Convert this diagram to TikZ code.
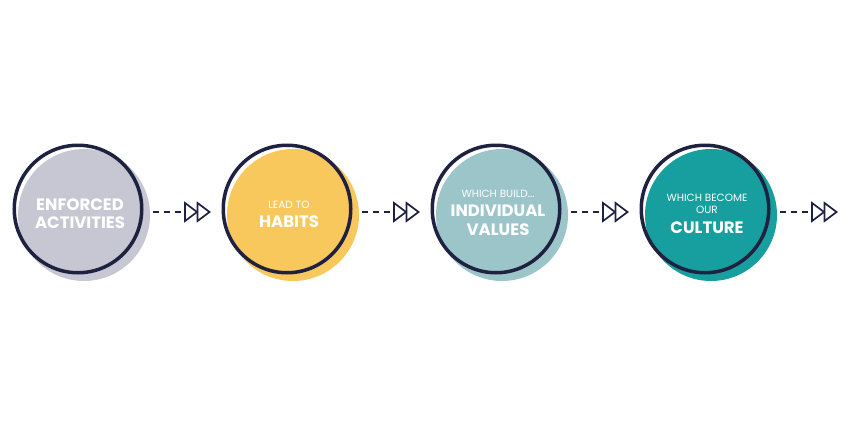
\documentclass[tikz,border=0pt]{standalone}
\usepackage{fontspec}
\setmainfont{Poppins}
\definecolor{navy}{HTML}{1E2140}
\definecolor{cgrey}{HTML}{C6C7D2}
\definecolor{cyellow}{HTML}{F9C85C}
\definecolor{clteal}{HTML}{9CC5CA}
\definecolor{cteal}{HTML}{179F9F}
\tikzset{
  blob/.style={circle, minimum size=132pt, inner sep=0pt, draw=none},
  ring/.style={circle, minimum size=127.5pt, inner sep=0pt, draw=navy, line width=3.5pt},
  small/.style={anchor=base, text=white, inner sep=0pt, font=\fontsize{10.5}{12}\selectfont},
  big/.style={anchor=base, text=white, inner sep=0pt, font=\fontsize{16.5}{18}\selectfont\bfseries},
  dashline/.style={draw=navy, line width=1.6pt, dash pattern=on 6pt off 5pt},
  tri/.style={draw=navy, line width=1.7pt, line join=miter},
  flowarrow/.pic={
    \draw[dashline] (0,0) -- (29,0);
    \draw[tri] (32,-9) -- (44,0) -- (32,9) -- cycle;
    \draw[tri] (44.5,-9) -- (56.5,0) -- (44.5,9) -- cycle;
  },
}
\begin{document}
\begin{tikzpicture}[x=1pt, y=-1pt]
\useasboundingbox (0,0) rectangle (850,425);
% fills
\node[blob, fill=cgrey]   (f1) at (84,215) {};
\node[blob, fill=cyellow] (f2) at (293,215) {};
\node[blob, fill=clteal]  (f3) at (502,215) {};
\node[blob, fill=cteal]   (f4) at (711,215) {};
% rings
\node[ring] (c1) at (78,209) {};
\node[ring] (c2) at (287,209) {};
\node[ring] (c3) at (496,209) {};
\node[ring] (c4) at (705,209) {};
% texts
\node[big] (t1a) at (80,210) {ENFORCED};
\node[big] (t1b) at (80,228) {ACTIVITIES};
\node[small] (t2a) at (289,208) {LEAD TO};
\node[big] (t2b) at (289,227) {HABITS};
\node[small] (t3a) at (498,197) {WHICH BUILD...};
\node[big] (t3b) at (498,216) {INDIVIDUAL};
\node[big] (t3c) at (498,235) {VALUES};
\node[small] (t4a) at (707,201) {WHICH BECOME};
\node[small] (t4b) at (707,213) {OUR};
\node[big] (t4c) at (707,233) {CULTURE};
% connectors
\coordinate (s1) at ([xshift=9.5pt]c1.east |- 0,212);
\coordinate (s2) at ([xshift=9.5pt]c2.east |- 0,212);
\coordinate (s3) at ([xshift=9.5pt]c3.east |- 0,212);
\coordinate (s4) at ([xshift=9.5pt]c4.east |- 0,212);
\pic at (s1) {flowarrow};
\pic at (s2) {flowarrow};
\pic at (s3) {flowarrow};
\pic at (s4) {flowarrow};
\end{tikzpicture}
\end{document}
